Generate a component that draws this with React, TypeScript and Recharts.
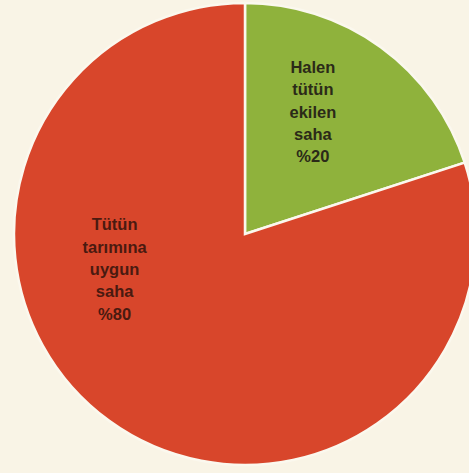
import { PieChart, Pie, Cell } from "recharts";

const categories = ["Halen tütün ekilen saha", "Tütün tarımına uygun saha"];
const shares = [20, 80];
const labelLines = [
  ["Halen", "tütün", "ekilen", "saha", "%20"],
  ["Tütün", "tarımına", "uygun", "saha", "%80"],
];
const colors = ["#8fb23c", "#d8462b"];
const textColors = ["#2b2a18", "#4a1a10"];
// where each label block sits: distance from centre and angle in degrees
const labelSpots = [
  { r: 140, angle: 61 },
  { r: 135, angle: 195 },
];

const data = categories.map((name, i) => ({ name, value: shares[i] }));

const RADIAN = Math.PI / 180;

function renderLabel(props: any) {
  const { cx, cy, index } = props;
  const spot = labelSpots[index];
  const x = cx + spot.r * Math.cos(spot.angle * RADIAN);
  const y = cy - spot.r * Math.sin(spot.angle * RADIAN);
  const lines = labelLines[index];
  const lh = 22.3;
  const top = y - ((lines.length - 1) * lh) / 2;
  return (
    <text
      x={x}
      y={top}
      textAnchor="middle"
      dominantBaseline="central"
      fill={textColors[index]}
      fontFamily="'Liberation Sans', Arial, sans-serif"
      fontSize={16.5}
      fontWeight={index === 0 ? 700 : 600}
    >
      {lines.map((l, j) => (
        <tspan key={j} x={x} y={top + j * lh}>
          {l}
        </tspan>
      ))}
    </text>
  );
}

export default function App() {
  return (
    <div
      style={{
        position: "absolute",
        left: 0,
        top: 0,
        width: 469,
        height: 473,
        background: "#f9f4e6",
        overflow: "hidden",
      }}
    >
      <PieChart width={469} height={473} margin={{ top: 0, right: 0, bottom: 0, left: 0 }}>
        <Pie
          data={data}
          dataKey="value"
          nameKey="name"
          cx={245}
          cy={234}
          outerRadius={231}
          startAngle={90}
          endAngle={-270}
          stroke="#fbf8ee"
          strokeWidth={2.5}
          label={renderLabel}
          labelLine={false}
          isAnimationActive={false}
        >
          {data.map((d, i) => (
            <Cell key={d.name} fill={colors[i]} />
          ))}
        </Pie>
      </PieChart>
    </div>
  );
}
